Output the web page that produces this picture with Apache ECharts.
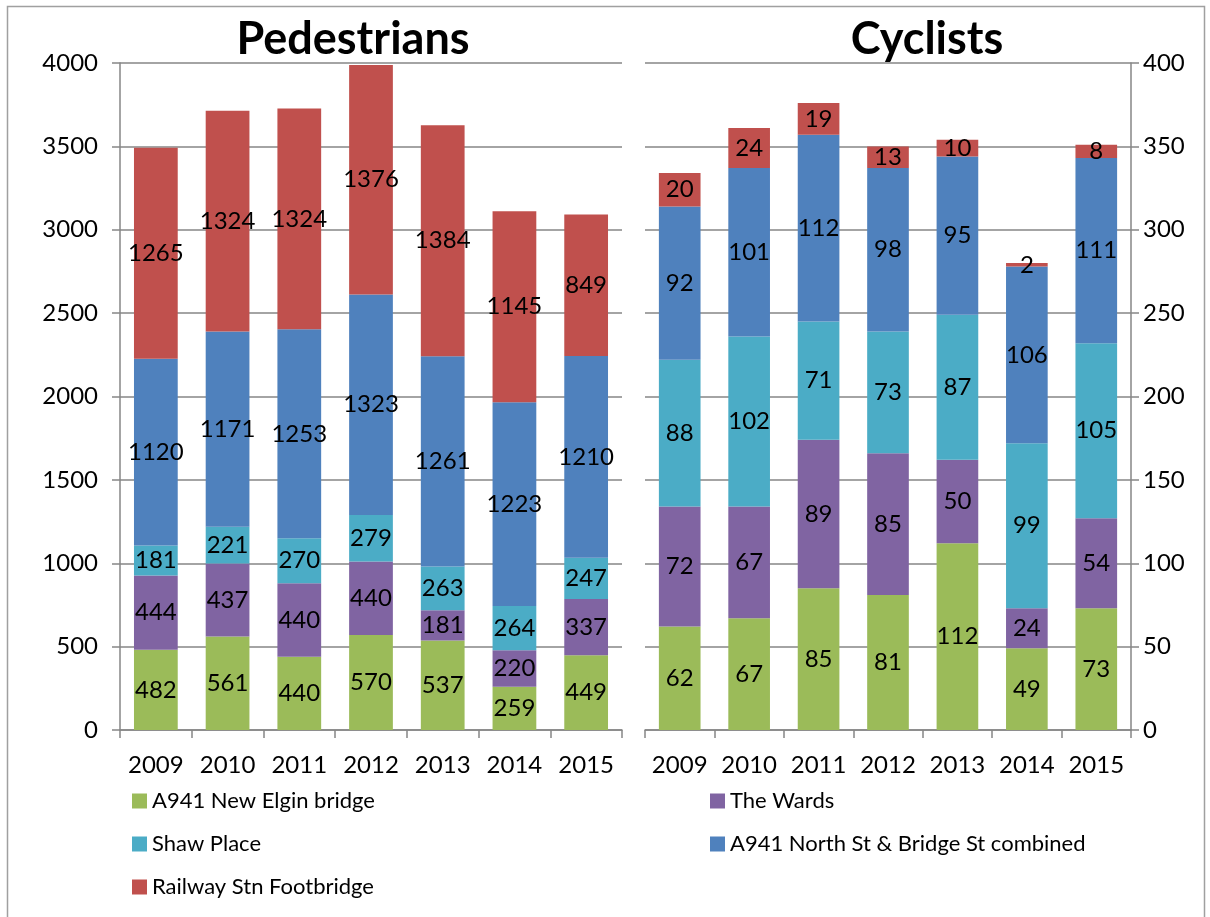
<!DOCTYPE html>
<html>
<head>
<meta charset="utf-8">
<script src="https://cdn.jsdelivr.net/npm/echarts@6/dist/echarts.min.js"></script>
<style>
  html, body { margin: 0; padding: 0; background: #fff; }
  #chart { width: 1210px; height: 917px; }
</style>
</head>
<body>
<div id="chart"></div>
<script>
var years = ['2009', '2010', '2011', '2012', '2013', '2014', '2015'];
var siteNames = ['A941 New Elgin bridge', 'The Wards', 'Shaw Place', 'A941 North St & Bridge St combined', 'Railway Stn Footbridge'];
var siteColors = ['#9BBB59', '#8064A2', '#4BACC6', '#4F81BD', '#C0504D'];

// pedestrians
var pedElgin = [482, 561, 440, 570, 537, 259, 449];
var pedWards = [444, 437, 440, 440, 181, 220, 337];
var pedShaw = [181, 221, 270, 279, 263, 264, 247];
var pedNorth = [1120, 1171, 1253, 1323, 1261, 1223, 1210];
var pedRail = [1265, 1324, 1324, 1376, 1384, 1145, 849];

// cyclists
var cycElgin = [62, 67, 85, 81, 112, 49, 73];
var cycWards = [72, 67, 89, 85, 50, 24, 54];
var cycShaw = [88, 102, 71, 73, 87, 99, 105];
var cycNorth = [92, 101, 112, 98, 95, 106, 111];
var cycRail = [20, 24, 19, 13, 10, 2, 8];

var pedData = [pedElgin, pedWards, pedShaw, pedNorth, pedRail];
var cycData = [cycElgin, cycWards, cycShaw, cycNorth, cycRail];

var FONT = 'Lato';
var GRAY = '#868686';

var series = [];
for (var i = 0; i < siteNames.length; i++) {
    series.push({
        name: siteNames[i], type: 'bar', stack: 'ped', xAxisIndex: 0, yAxisIndex: 0,
        data: pedData[i], barWidth: '61%',
        itemStyle: { color: siteColors[i] },
        label: { show: true, position: 'inside', color: '#000', fontSize: 24, fontFamily: FONT }
    });
    series.push({
        name: siteNames[i], type: 'bar', stack: 'cyc', xAxisIndex: 1, yAxisIndex: 1,
        data: cycData[i], barWidth: '60%',
        itemStyle: { color: siteColors[i] },
        label: { show: true, position: 'inside', color: '#000', fontSize: 24, fontFamily: FONT }
    });
}

function xAxisCfg(idx) {
    return {
        type: 'category', gridIndex: idx, data: years,
        axisLine: { lineStyle: { color: GRAY, width: 1.5 } },
        axisTick: { show: true, length: 8, lineStyle: { color: GRAY, width: 1.5 } },
        axisLabel: { color: '#000', fontSize: 24, fontFamily: FONT, margin: 23, interval: 0 }
    };
}

function yAxisCfg(idx, max, interval, pos, margin) {
    return {
        type: 'value', gridIndex: idx, min: 0, max: max, interval: interval, position: pos,
        axisLine: { show: true, lineStyle: { color: GRAY, width: 1.5 } },
        axisTick: { show: true, length: 8, lineStyle: { color: GRAY, width: 1.5 } },
        splitLine: { lineStyle: { color: GRAY, width: 1.5 } },
        axisLabel: { color: '#000', fontSize: 24, fontFamily: FONT, margin: margin,
                     formatter: function (v) { return String(v); } }
    };
}

var legendText = { color: '#000', fontSize: 22, fontFamily: FONT };

var option = {
    animation: false,
    backgroundColor: '#fff',
    title: [
        { text: 'Pedestrians', left: 348, top: 12, textAlign: 'center',
          textStyle: { fontSize: 45, fontWeight: 'bold', fontFamily: FONT, color: '#000' } },
        { text: 'Cyclists', left: 922, top: 12, textAlign: 'center',
          textStyle: { fontSize: 45, fontWeight: 'bold', fontFamily: FONT, color: '#000' } }
    ],
    legend: [
        { data: [siteNames[0], siteNames[2], siteNames[4]], orient: 'vertical', left: 127, top: 785,
          itemWidth: 15, itemHeight: 15, itemGap: 21, icon: 'rect', textStyle: legendText },
        { data: [siteNames[1], siteNames[3]], orient: 'vertical', left: 705, top: 785,
          itemWidth: 15, itemHeight: 15, itemGap: 21, icon: 'rect', textStyle: legendText }
    ],
    grid: [
        { left: 120, width: 502, top: 63, height: 667 },
        { left: 645, width: 486, top: 63, height: 667 }
    ],
    xAxis: [xAxisCfg(0), xAxisCfg(1)],
    yAxis: [yAxisCfg(0, 4000, 500, 'left', 22), yAxisCfg(1, 400, 50, 'right', 12)],
    graphic: [
        { type: 'rect', shape: { x: 7.5, y: 6.5, width: 1197, height: 930 },
          style: { fill: 'none', stroke: '#a0a0a0', lineWidth: 1.5 }, silent: true }
    ],
    series: series
};

var myChart = echarts.init(document.getElementById('chart'));
myChart.setOption(option);
</script>
</body>
</html>
